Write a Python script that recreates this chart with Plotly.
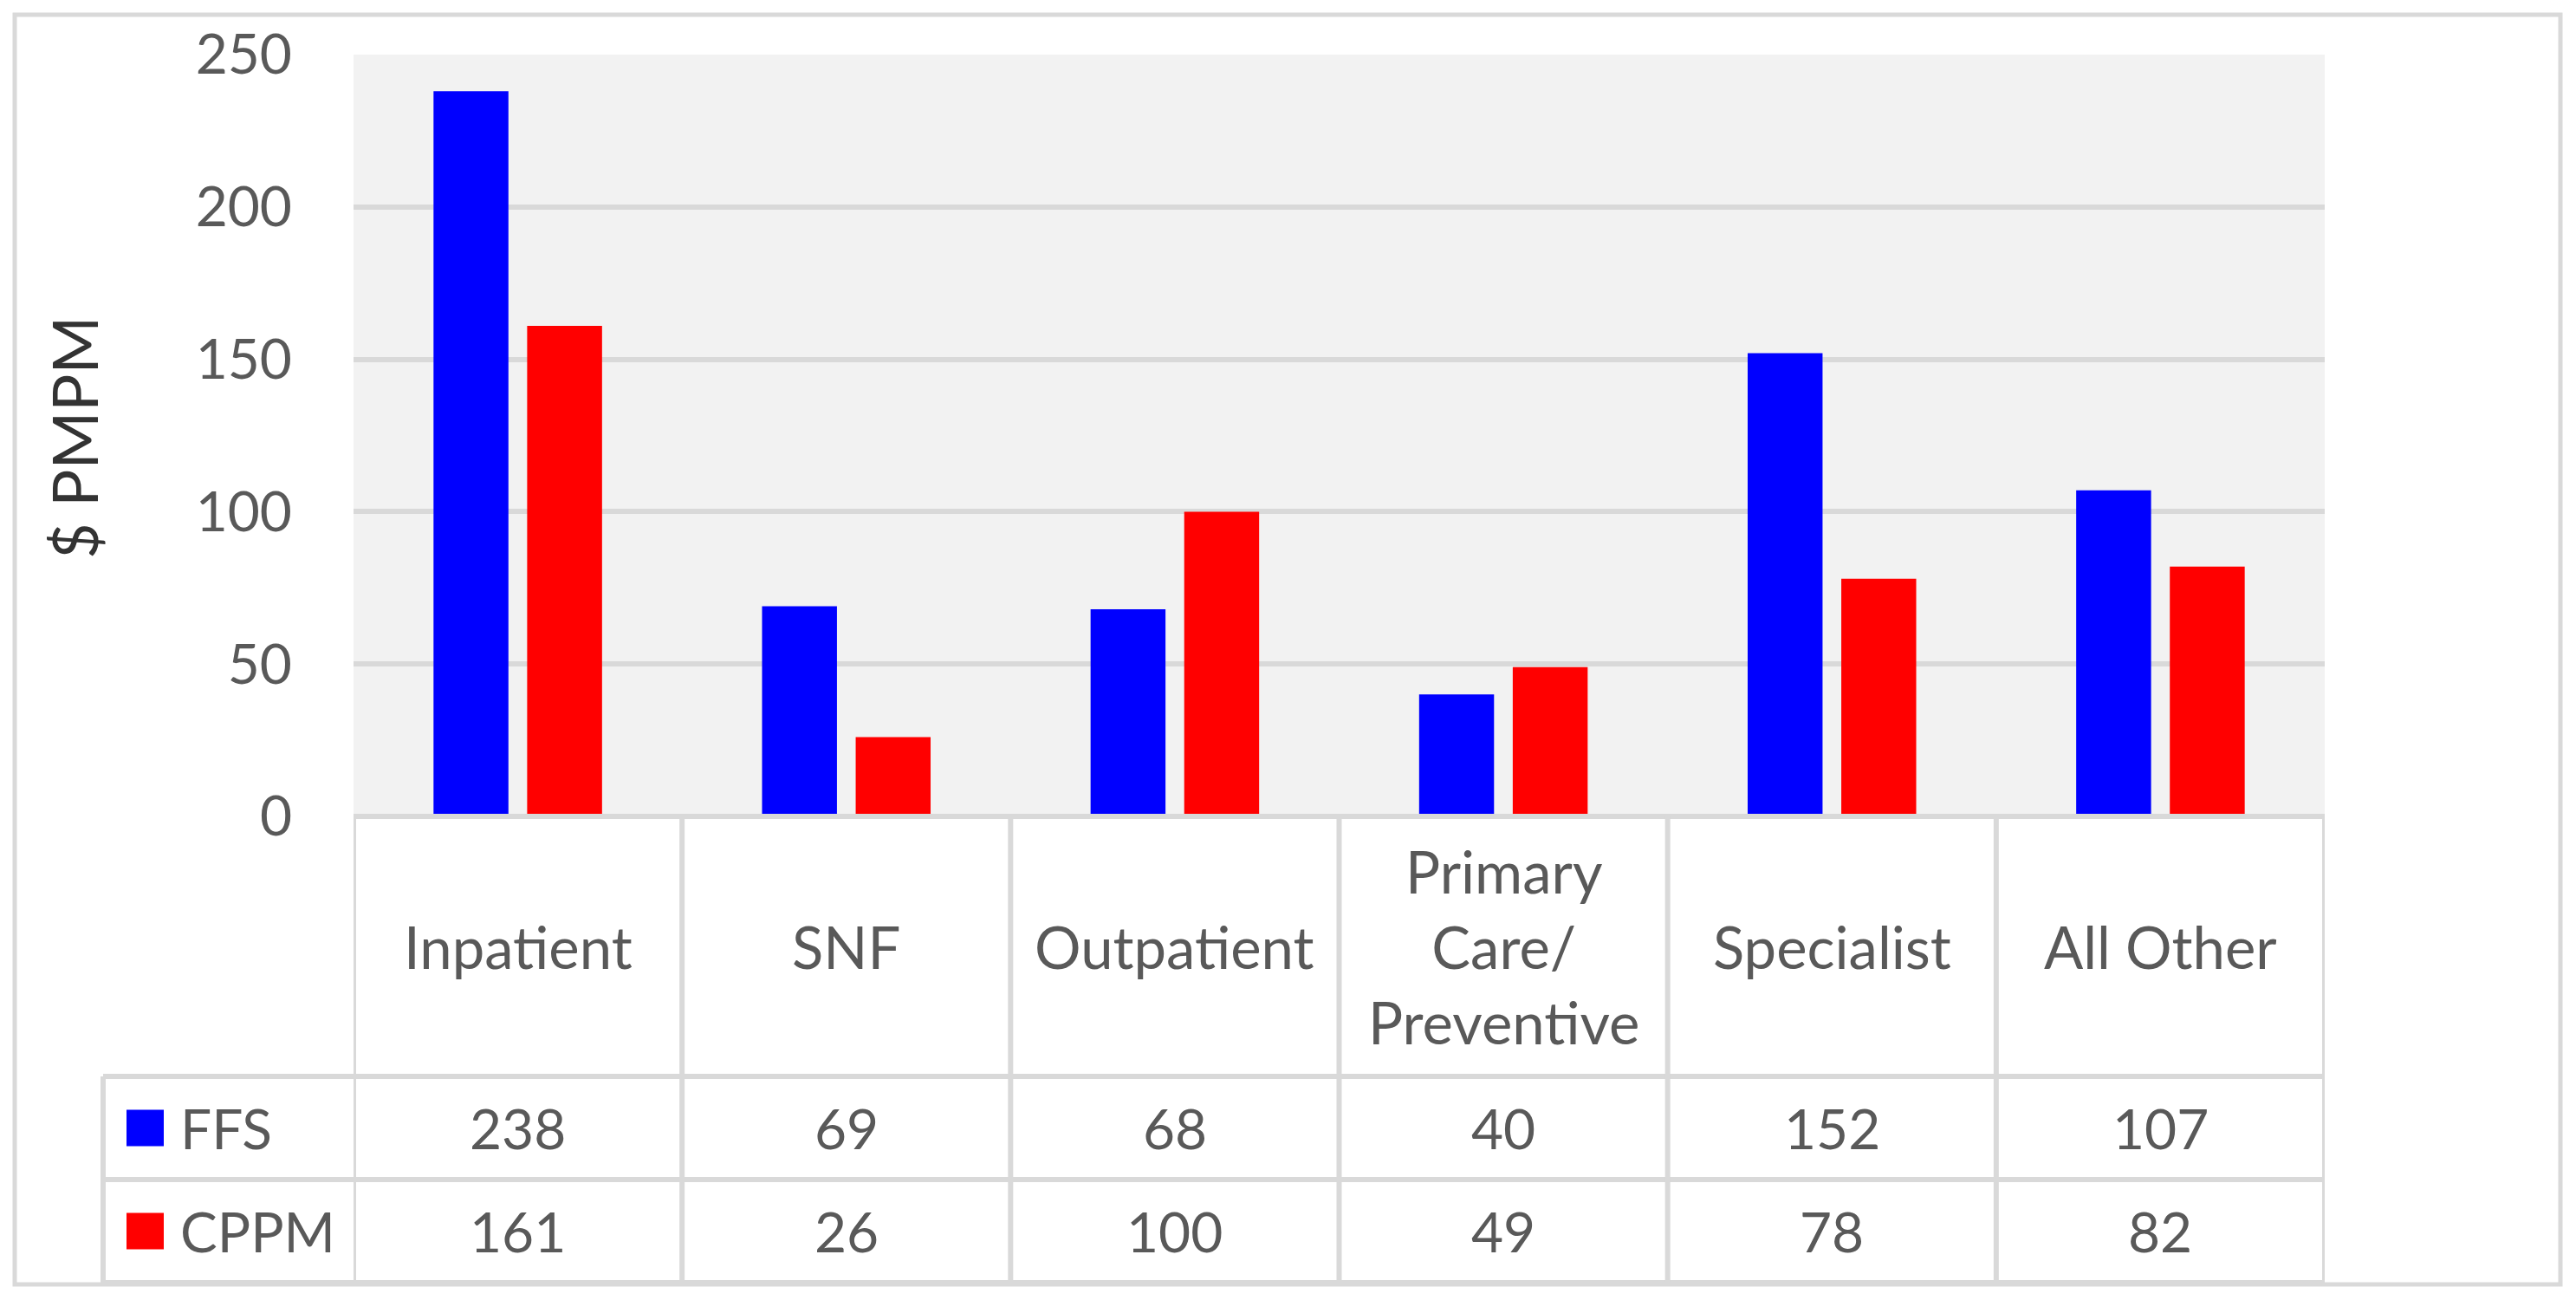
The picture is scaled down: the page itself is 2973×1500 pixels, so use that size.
import plotly.graph_objects as go

# data
categories = ["Inpatient", "SNF", "Outpatient", "Primary<br>Care/<br>Preventive", "Specialist", "All Other"]
series_names = ["FFS", "CPPM"]
ffs = [238, 69, 68, 40, 152, 107]
cppm = [161, 26, 100, 49, 78, 82]
series_values = [ffs, cppm]
series_colors = ["#0000FF", "#FF0000"]
y_ticks = [0, 50, 100, 150, 200, 250]

# page geometry (pixels, as measured on the reference)
W, H = 2973, 1500
L, R, T, B = 408, 2683, 63, 942
PW, PH = R - L, B - T
PAGE_OFF = 8  # body margin of the html page
GRID = "#d9d9d9"
TXT = "#595959"
FONT = "Lato"


def px(x):
    return (x - L) / PW


def py(y):
    return (B - y) / PH


fig = go.Figure()

xs = list(range(len(categories)))
for name, vals, color in zip(series_names, series_values, series_colors):
    fig.add_trace(go.Bar(
        x=xs,
        y=vals,
        name=name,
        marker_color=color,
        marker_line_width=0,
        showlegend=False,
    ))

shapes = []
line = dict(color=GRID, width=6)

# table rows (pixel y of horizontal rules)
row_cat_bottom, row_ffs_bottom, row_cppm_bottom = 1242, 1361, 1480
legend_left = 119

# top rule under the plot
shapes.append(dict(type="line", xref="paper", yref="paper",
                   x0=px(L), x1=px(R), y0=py(B), y1=py(B), line=line))
for yy in (row_cat_bottom, row_ffs_bottom, row_cppm_bottom):
    shapes.append(dict(type="line", xref="paper", yref="paper",
                       x0=px(legend_left), x1=px(R), y0=py(yy), y1=py(yy), line=line))
# column rules
for i in range(len(categories) + 1):
    shapes.append(dict(type="line", xref="x", yref="paper",
                       x0=i - 0.5, x1=i - 0.5, y0=py(B), y1=py(row_cppm_bottom), line=line))
shapes.append(dict(type="line", xref="paper", yref="paper",
                   x0=px(legend_left), x1=px(legend_left),
                   y0=py(row_cat_bottom), y1=py(row_cppm_bottom), line=line))
# outer border
shapes.append(dict(type="rect", xref="paper", yref="paper",
                   x0=px(17), x1=px(2955), y0=py(17), y1=py(1482),
                   line=dict(color=GRID, width=5), fillcolor="rgba(0,0,0,0)"))

annotations = []
cat_mid = (B + row_cat_bottom) / 2
row_mids = [(row_cat_bottom + row_ffs_bottom) / 2, (row_ffs_bottom + row_cppm_bottom) / 2]

for i, cat in enumerate(categories):
    annotations.append(dict(x=i, y=py(cat_mid), xref="x", yref="paper", text=cat,
                            showarrow=False, xanchor="center", yanchor="middle",
                            font=dict(family=FONT, size=67, color=TXT)))

for name, vals, color, ym in zip(series_names, series_values, series_colors, row_mids):
    shapes.append(dict(type="rect", xref="paper", yref="paper",
                       x0=px(146), x1=px(189), y0=py(ym - 21), y1=py(ym + 21),
                       fillcolor=color, line=dict(width=0)))
    annotations.append(dict(x=px(206), y=py(ym), xref="paper", yref="paper", text=name,
                            showarrow=False, xanchor="left", yanchor="middle",
                            font=dict(family=FONT, size=64, color=TXT)))
    for i, v in enumerate(vals):
        annotations.append(dict(x=i, y=py(ym), xref="x", yref="paper", text=str(v),
                                showarrow=False, xanchor="center", yanchor="middle",
                                font=dict(family=FONT, size=64, color=TXT)))

# y-axis title
annotations.append(dict(x=px(85), y=py(505), xref="paper", yref="paper", text="$ PMPM",
                        textangle=-90, showarrow=False, xanchor="center", yanchor="middle",
                        font=dict(family=FONT, size=72, color="#333333")))

fig.update_layout(
    width=W, height=H,
    margin=dict(l=L - PAGE_OFF, r=W - R + PAGE_OFF, t=T - PAGE_OFF, b=H - B + PAGE_OFF, pad=0),
    paper_bgcolor="white",
    plot_bgcolor="#f2f2f2",
    barmode="group",
    bargap=0.43,
    bargroupgap=0.2,
    shapes=shapes,
    annotations=annotations,
    xaxis=dict(range=[-0.5, len(categories) - 0.5], showticklabels=False,
               showgrid=False, zeroline=False, showline=False, ticks=""),
    yaxis=dict(range=[0, 250], tickvals=y_ticks, showgrid=True, gridcolor=GRID, gridwidth=6,
               zeroline=False, showline=False, ticks="", ticklabelstandoff=70,
               tickfont=dict(family=FONT, size=64, color=TXT)),
)

fig.write_html("out.html")
